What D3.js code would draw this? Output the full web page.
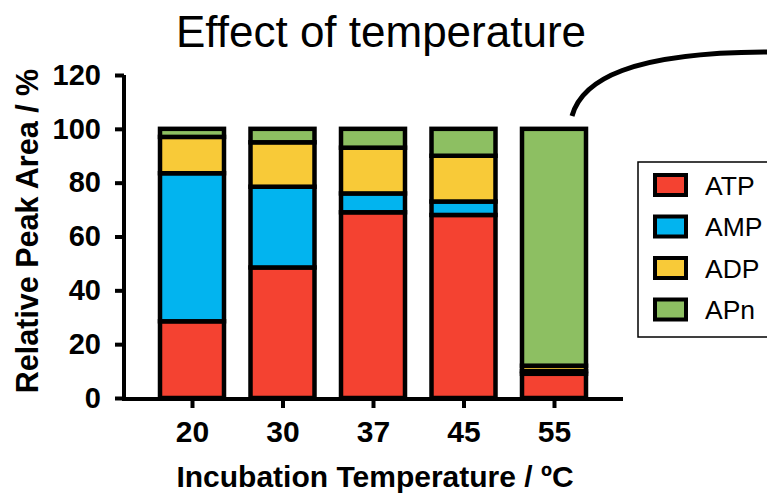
<!DOCTYPE html>
<html lang="en">
<head>
    <meta charset="UTF-8">
    <title>Effect of temperature</title>
    <script src="https://d3js.org/d3.v7.min.js"></script>
    <style>
        body {
            margin: 0;
            background: #fff;
        }
        svg text {
            font-family: "Liberation Sans", Arial, sans-serif;
            fill: #000;
        }
        .axis text {
            font-weight: bold;
        }
    </style>
</head>
<body>
    <div id="chart"></div>

    <script>
        // data (relative peak area, %)
        const temps = ["20", "30", "37", "45", "55"];
        const series = ["ATP", "AMP", "ADP", "APn"];
        const atp = [28.5, 48.5, 69, 68, 9];
        const amp = [55, 30, 7, 5, 1];
        const adp = [13.5, 16.5, 17, 17, 2];
        const apn = [3, 5, 7, 10, 88];
        const yTicks = [0, 20, 40, 60, 80, 100, 120];
        const colors = ["#f44231", "#02b4ef", "#f8ca38", "#8dbf62"];

        const width = 767, height = 494;

        const svg = d3.select("#chart")
            .append("svg")
            .attr("width", width)
            .attr("height", height);

        const rows = temps.map((t, i) => ({
            temp: t, ATP: atp[i], AMP: amp[i], ADP: adp[i], APn: apn[i]
        }));
        const stacked = d3.stack().keys(series)(rows);

        const x = d3.scalePoint()
            .domain(temps)
            .range([192, 554]);
        const barW = 64;

        const y = d3.scaleLinear()
            .domain([0, 120])
            .range([398, 75]);

        const color = d3.scaleOrdinal().domain(series).range(colors);

        // bars
        const layers = svg.append("g")
            .selectAll("g")
            .data(stacked)
            .join("g")
            .attr("fill", d => color(d.key));

        layers.selectAll("rect")
            .data(d => d)
            .join("rect")
            .attr("x", d => x(d.data.temp) - barW / 2)
            .attr("y", d => y(d[1]))
            .attr("width", barW)
            .attr("height", d => y(d[0]) - y(d[1]))
            .attr("stroke", "#000")
            .attr("stroke-width", 4.5);

        // y axis
        const yAxis = svg.append("g")
            .attr("class", "axis")
            .attr("transform", "translate(124,0)")
            .call(d3.axisLeft(y).tickValues(yTicks).tickSize(9).tickSizeOuter(0).tickPadding(14));
        yAxis.selectAll("line, path").attr("stroke", "#000").attr("stroke-width", 4);
        yAxis.select(".domain").attr("d", "M0,75V401");
        yAxis.selectAll("text").style("font-size", "29px");

        // x axis
        const xAxis = svg.append("g")
            .attr("class", "axis")
            .attr("transform", "translate(0,399)")
            .call(d3.axisBottom(x).tickSize(9).tickSizeOuter(0).tickPadding(13));
        xAxis.selectAll("line, path").attr("stroke", "#000").attr("stroke-width", 4);
        xAxis.select(".domain").attr("d", "M122,0H623");
        xAxis.selectAll("text").style("font-size", "30px");

        // titles
        svg.append("text")
            .attr("x", 381)
            .attr("y", 47)
            .attr("text-anchor", "middle")
            .style("font-size", "44px")
            .text("Effect of temperature");

        svg.append("text")
            .attr("x", 375)
            .attr("y", 487)
            .attr("text-anchor", "middle")
            .style("font-size", "30px")
            .style("font-weight", "bold")
            .text("Incubation Temperature / ºC");

        svg.append("text")
            .attr("transform", "translate(38,231) rotate(-90)")
            .attr("text-anchor", "middle")
            .style("font-size", "30.5px")
            .style("font-weight", "bold")
            .text("Relative Peak Area / %");

        // connector curve
        svg.append("path")
            .attr("d", "M572,116 C582,80 630,52 770,52")
            .attr("fill", "none")
            .attr("stroke", "#000")
            .attr("stroke-width", 5);

        // legend
        const legend = svg.append("g");
        legend.append("rect")
            .attr("x", 638)
            .attr("y", 162)
            .attr("width", 140)
            .attr("height", 175)
            .attr("fill", "#fff")
            .attr("stroke", "#000")
            .attr("stroke-width", 1.5);

        const item = legend.selectAll("g")
            .data(series)
            .join("g")
            .attr("transform", (d, i) => `translate(653,${185 + i * 41.5})`);

        item.append("rect")
            .attr("x", 2)
            .attr("y", -10)
            .attr("width", 31)
            .attr("height", 20)
            .attr("fill", d => color(d))
            .attr("stroke", "#000")
            .attr("stroke-width", 4);

        item.append("text")
            .attr("x", 52)
            .attr("y", 9.5)
            .style("font-size", "26.5px")
            .text(d => d);
    </script>
</body>
</html>
